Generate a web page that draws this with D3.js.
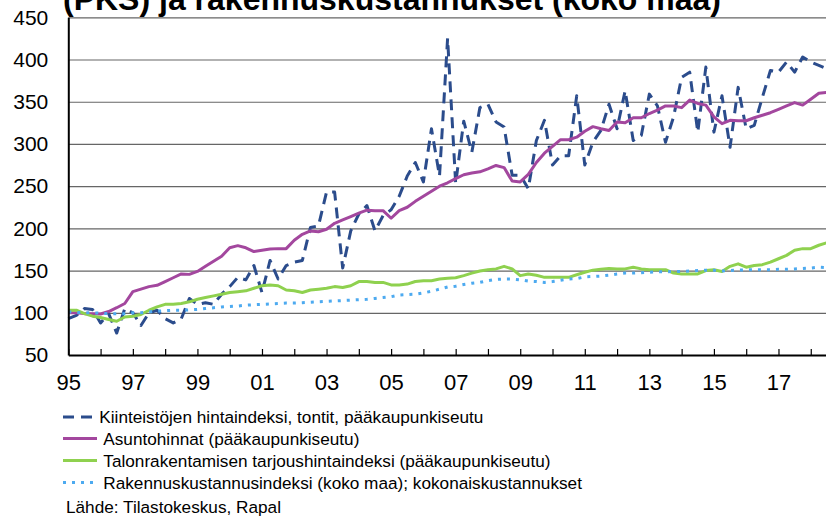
<!DOCTYPE html>
<html>
<head>
<meta charset="utf-8">
<script src="https://cdn.jsdelivr.net/npm/d3@7"></script>
<style>
  body { margin: 0; background: #fff; }
  svg { display: block; font-family: "Liberation Sans", Arial, sans-serif; }
</style>
</head>
<body>
<svg id="chart" width="826" height="521"></svg>
<script>
// Quarterly series, 1995Q1 .. 2018Q3 (index 0 = 1995Q1)
const startYear = 1995;

const tontit = [93, 97, 105, 104, 88, 99, 76, 105, 100, 85, 100, 103, 93, 88, 93, 117,
  110, 112, 110, 122, 131, 142, 139, 156, 124, 162, 140, 156, 160, 162, 201, 203,
  243, 243, 153, 197, 217, 227, 197, 215, 222, 238, 262, 278, 255, 318, 262, 425,
  253, 327, 290, 343, 347, 326, 320, 263, 263, 247, 304, 328, 275, 286, 286, 357,
  275, 302, 316, 347, 318, 363, 304, 310, 359, 345, 302, 332, 379, 385, 314, 391,
  314, 357, 296, 367, 318, 322, 355, 387, 385, 397, 385, 403, 397, 393, 389];

const asunnot = [100, 100, 99, 99, 98.5, 101.5, 106, 111, 125, 128, 131, 132.5, 137, 141.5, 146, 145.5,
  149, 155, 161, 167, 177, 179.5, 177, 172.5, 174, 175.5, 176, 176, 186, 193, 197, 196,
  199, 206, 210, 214, 218, 221.5, 221, 221, 212, 221, 225, 232, 238, 244, 250, 254,
  259, 263.5, 265.5, 267, 270.5, 274.5, 272, 256, 255, 264, 278, 289, 297, 305, 305, 308,
  315, 320.5, 318, 316, 326, 325, 331, 331, 336, 340, 345, 345, 343, 352, 348, 346,
  332, 324, 328, 327.5, 327.5, 331, 334, 337, 341, 345, 349, 346, 353, 360, 361];

const tarjous = [103, 103, 99, 96, 94.5, 92, 90, 95, 96, 98, 103, 107, 110, 110, 111, 113,
  116, 118, 120, 122, 124, 125, 126, 129, 132, 133, 132, 127, 126, 124, 127, 128,
  129, 131, 130, 132, 137, 137, 136, 136, 133, 133, 134, 137, 138, 138, 140, 141,
  141.5, 144, 147, 149.5, 151, 152, 155, 152, 144, 146, 144.5, 142, 142, 142, 142, 145,
  148, 150.5, 151.5, 152.5, 152, 152, 154, 152, 151, 151, 151, 147, 146, 146, 146, 150,
  151, 149, 155, 158, 154, 156, 157, 160, 164, 168, 174, 176, 176, 180, 183];

const rakkust = [101, 100.5, 100, 100, 99.5, 99, 99, 99, 100, 100, 101, 102, 102.5, 103, 103, 103.5,
  104, 105, 106, 107, 107.5, 108, 109, 109.5, 110, 110.5, 111, 111.5, 111.5, 112, 112.5, 113,
  113.5, 114, 114.5, 115, 115.5, 116, 117, 118, 119, 121, 121.5, 122, 123.5, 125.5, 128, 130.5,
  131.5, 133.5, 135, 136, 138, 139.5, 140, 140, 139, 137.5, 137, 136, 137, 138.5, 140, 140.5,
  142.5, 143, 143.5, 144.5, 146, 147, 147, 147.5, 148, 148.5, 148.5, 149, 149, 149.5, 150, 150.5,
  150.5, 149.5, 150, 150.5, 151, 151, 151, 151, 151.5, 151.5, 152, 152.5, 153, 154, 153.5];

const seriesNames = [
  "Kiinteistöjen hintaindeksi, tontit, pääkaupunkiseutu",
  "Asuntohinnat (pääkaupunkiseutu)",
  "Talonrakentamisen tarjoushintaindeksi (pääkaupunkiseutu)",
  "Rakennuskustannusindeksi (koko maa); kokonaiskustannukset"
];
const yTicks = [50, 100, 150, 200, 250, 300, 350, 400, 450];
const yearTicks = d3.range(1995, 2019);
const titleText = "(PKS) ja rakennuskustannukset (koko maa)";
const sourceText = "Lähde: Tilastokeskus, Rapal";

const series = [
  { values: tontit,  color: "#2B4C8C", dash: "11,7" },
  { values: asunnot, color: "#A3479E", dash: null },
  { values: tarjous, color: "#8FD14F", dash: null },
  { values: rakkust, color: "#4DAAF0", dash: "3,6" }
];

const svg = d3.select("#chart");
const plotLeft = 68.3, plotRight = 826.9, plotTop = 17.3, plotBottom = 355;

const x = d3.scaleLinear()
  .domain([startYear, startYear + (tontit.length - 1) / 4])
  .range([plotLeft, plotRight]);
const y = d3.scaleLinear().domain([50, 450]).range([plotBottom, plotTop]);

// title (cut off at the top like the original)
svg.append("text")
  .attr("x", 63)
  .attr("y", 9.5)
  .attr("font-size", 32)
  .attr("font-weight", "bold")
  .attr("fill", "#000")
  .text(titleText);

// gridlines
svg.append("g")
  .attr("transform", `translate(${plotLeft},0)`)
  .call(d3.axisLeft(y).tickValues(yTicks.slice(1)).tickSize(-(826 - plotLeft)).tickFormat(""))
  .call(g => g.select(".domain").remove())
  .call(g => g.selectAll("line").attr("stroke", "#666").attr("stroke-width", 1.2));

// lines
const line = d3.line()
  .x((d, i) => x(startYear + i / 4))
  .y(d => y(d));

series.forEach(s => {
  svg.append("path")
    .datum(s.values)
    .attr("fill", "none")
    .attr("stroke", s.color)
    .attr("stroke-width", 3)
    .attr("stroke-linejoin", "round")
    .attr("stroke-dasharray", s.dash)
    .attr("d", line);
});

// y axis
svg.append("g")
  .attr("transform", `translate(${plotLeft},0)`)
  .call(d3.axisLeft(y).tickValues(yTicks).tickSize(0).tickSizeOuter(0).tickPadding(20))
  .call(g => g.select(".domain").attr("stroke", "#000").attr("stroke-width", 2))
  .call(g => g.selectAll("text")
    .attr("font-size", 21).attr("fill", "#000").attr("font-family", null));

// x axis, ticks point up into the plot
svg.append("g")
  .attr("transform", `translate(0,${plotBottom})`)
  .call(d3.axisBottom(x)
    .tickValues(yearTicks)
    .tickSize(-6)
    .tickSizeOuter(0)
    .tickPadding(19)
    .tickFormat(d => d % 2 ? String(d).slice(2) : ""))
  .call(g => g.select(".domain").attr("stroke", "#000").attr("stroke-width", 2))
  .call(g => g.selectAll(".tick line").attr("stroke", "#000").attr("stroke-width", 1.2))
  .call(g => g.selectAll("text")
    .attr("font-size", 22).attr("fill", "#000").attr("font-family", null));

// legend
const legendRows = [
  { y: 417, x1: 63, x2: 93, tx: 99.3 },
  { y: 438.5, x1: 63, x2: 97, tx: 103.3 },
  { y: 460.5, x1: 63, x2: 97, tx: 103.3 },
  { y: 482.5, x1: 63, x2: 95, tx: 103.3 }
];

const legend = svg.append("g").attr("font-size", 17.2);
series.forEach((s, i) => {
  const r = legendRows[i];
  legend.append("line")
    .attr("x1", r.x1).attr("x2", r.x2)
    .attr("y1", r.y).attr("y2", r.y)
    .attr("stroke", s.color)
    .attr("stroke-width", 3)
    .attr("stroke-dasharray", s.dash);
  legend.append("text")
    .attr("x", r.tx)
    .attr("y", r.y + 6.3)
    .attr("fill", "#000")
    .text(seriesNames[i]);
});

legend.append("text")
  .attr("x", 66)
  .attr("y", 513.3)
  .attr("fill", "#000")
  .text(sourceText);
</script>
</body>
</html>
